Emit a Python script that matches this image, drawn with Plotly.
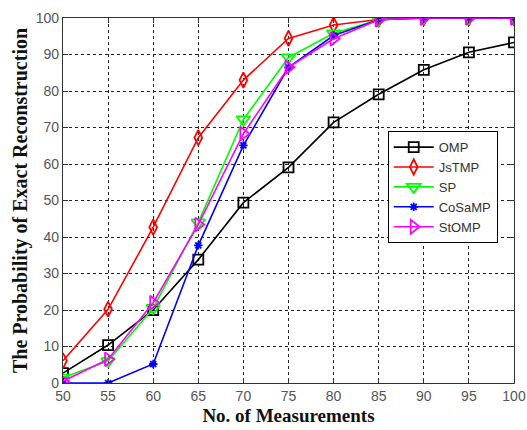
import plotly.graph_objects as go

measurements = [50, 55, 60, 65, 70, 75, 80, 85, 90, 95, 100]
omp    = [2.7, 10.4, 20.0, 33.8, 49.4, 59.1, 71.4, 79.1, 85.8, 90.6, 93.3]
jstmp  = [6.1, 20.2, 42.7, 67.2, 83.0, 94.4, 98.1, 99.6, 100, 100, 100]
sp     = [1.5, 6.0, 20.5, 44.0, 72.2, 89.2, 95.8, 99.5, 100, 100, 100]
cosamp = [0.0, 0.0, 5.2, 37.7, 65.1, 86.5, 95.2, 99.5, 100, 100, 100]
stomp  = [0.5, 6.5, 22.0, 43.4, 68.3, 86.5, 94.3, 99.5, 100, 100, 100]

series = [
    ("OMP", omp, "#000000", "square-open", 10),
    ("JsTMP", jstmp, "#ff0000", "diamond-tall-open", 11),
    ("SP", sp, "#00ff00", "triangle-down-open", 12),
    ("CoSaMP", cosamp, "#0000ff", "asterisk-open", 7),
    ("StOMP", stomp, "#ff00ff", "triangle-right-open", 12),
]

fig = go.Figure()
for name, vals, color, sym, sz in series:
    fig.add_trace(go.Scatter(
        x=measurements, y=vals, name=name, mode="lines+markers",
        line=dict(color=color, width=1.6),
        marker=dict(symbol=sym, size=sz, color=color, line=dict(color=color, width=1.8)),
    ))

axis_common = dict(
    showline=True, linecolor="#333333", linewidth=1.2, mirror="ticks",
    ticks="inside", ticklen=5, tickcolor="#333333",
    showgrid=True, gridcolor="#222222", griddash="dot", gridwidth=1,
    zeroline=False, ticklabeloverflow="allow", automargin=False,
    tickfont=dict(family="Liberation Sans, Arial", size=14, color="#555555"),
)

fig.update_xaxes(range=[50, 100], tickvals=measurements, **axis_common,
                 title=dict(text="<b>No. of Measurements</b>",
                            font=dict(family="Liberation Serif, Times New Roman", size=19, color="#111111"),
                            standoff=5))
fig.update_yaxes(range=[0, 100], tickvals=list(range(0, 101, 10)), **axis_common,
                 title=dict(text="<b>The Probability of Exact Reconstruction</b>",
                            font=dict(family="Liberation Serif, Times New Roman", size=20, color="#111111"),
                            standoff=2))

fig.update_layout(
    width=527, height=430,
    margin=dict(l=63, r=13, t=18, b=47),
    paper_bgcolor="white", plot_bgcolor="white",
    showlegend=True,
    legend=dict(x=0.72, y=0.69, xanchor="left", yanchor="top",
                bordercolor="#000000", borderwidth=1, bgcolor="white",
                font=dict(family="Liberation Sans, Arial", size=13, color="#333333"),
                itemwidth=40, tracegroupgap=0),
)

fig.write_html("out.html")
